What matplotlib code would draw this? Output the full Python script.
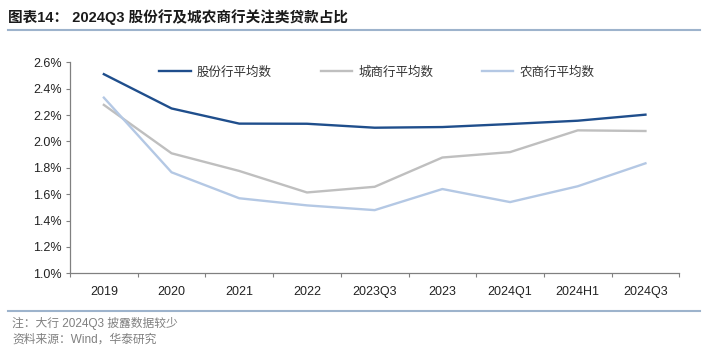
import matplotlib
matplotlib.use('Agg')
import matplotlib.pyplot as plt
import numpy as np
from matplotlib.lines import Line2D

plt.rcParams['font.family'] = ['Liberation Sans', 'Noto Sans CJK SC', 'DejaVu Sans']

# Data (%)
periods = ['2019', '2020', '2021', '2022', '2023Q3', '2023', '2024Q1', '2024H1', '2024Q3']
joint_stock = [2.51, 2.25, 2.135, 2.134, 2.104, 2.109, 2.132, 2.157, 2.203]
city_comm = [2.277, 1.910, 1.776, 1.613, 1.656, 1.878, 1.919, 2.084, 2.079]
rural_comm = [2.332, 1.766, 1.569, 1.515, 1.479, 1.639, 1.540, 1.660, 1.834]
series_names = ['股份行平均数', '城商行平均数', '农商行平均数']
series_colors = ['#1F4E8C', '#BFBFBF', '#B4C8E4']

yticks = [1.0, 1.2, 1.4, 1.6, 1.8, 2.0, 2.2, 2.4, 2.6]

title = '图表14： 2024Q3 股份行及城农商行关注类贷款占比'
note = '注：大行 2024Q3 披露数据较少'
source = '资料来源：Wind，华泰研究'

W, H = 719, 351
fig = plt.figure(figsize=(W / 100, H / 100), dpi=100)

# plot area in pixel terms
x0, x1, ytop, ybot = 70, 679.3, 62.3, 273.3
ax = fig.add_axes([x0 / W, (H - ybot) / H, (x1 - x0) / W, (ybot - ytop) / H])

x = np.arange(len(periods))
for vals, name, col in zip([joint_stock, city_comm, rural_comm], series_names, series_colors):
    ax.plot(x, vals, color=col, linewidth=1.7, solid_joinstyle='round', label=name)

ax.set_xlim(-0.5, len(periods) - 0.5)
ax.set_ylim(1.0, 2.6)
ax.set_yticks(yticks)
ax.set_yticklabels([f'{v:.1f}%' for v in yticks])
ax.set_xticks(x)
ax.set_xticklabels(periods)
ax.set_xticks(np.arange(len(periods) + 1) - 0.5, minor=True)
ax.tick_params(axis='x', which='major', length=0, pad=9, labelsize=9, colors='#222222')
ax.tick_params(axis='x', which='minor', length=3, width=0.8, color='#808080', direction='out')
ax.tick_params(axis='y', length=3, width=0.8, color='#808080', direction='out',
               labelsize=9, labelcolor='#222222', pad=3)
for side in ['top', 'right']:
    ax.spines[side].set_visible(False)
for side in ['left', 'bottom']:
    ax.spines[side].set_color('#808080')
    ax.spines[side].set_linewidth(0.9)

handles = [Line2D([], [], color=c, linewidth=1.7) for c in series_colors]
fig.legend(handles, series_names, loc='center', bbox_to_anchor=(377 / W, 1 - 72 / H),
           ncol=3, frameon=False, handlelength=2.5, handletextpad=0.5,
           columnspacing=3.9, prop={'family': ['Noto Sans CJK SC'], 'size': 9},
           labelcolor='#333333')

# title and rules
fig.text(8 / W, 1 - 17 / H, title, fontsize=10.5, fontweight='bold', color='#1a1a1a',
         va='center', ha='left', family=['Liberation Sans', 'Noto Sans CJK SC'])
fig.add_artist(Line2D([8 / W, 700 / W], [1 - 30 / H, 1 - 30 / H], color='#9DB3CC', linewidth=1.5))
fig.add_artist(Line2D([8 / W, 700 / W], [1 - 310.7 / H, 1 - 310.7 / H], color='#9DB3CC', linewidth=1.5))

fig.text(12 / W, 1 - 323 / H, note, fontsize=8.5, color='#808080', va='center', ha='left')
fig.text(12 / W, 1 - 340 / H, source, fontsize=8.5, color='#808080', va='center', ha='left')

fig.savefig('out.png', dpi=100)
